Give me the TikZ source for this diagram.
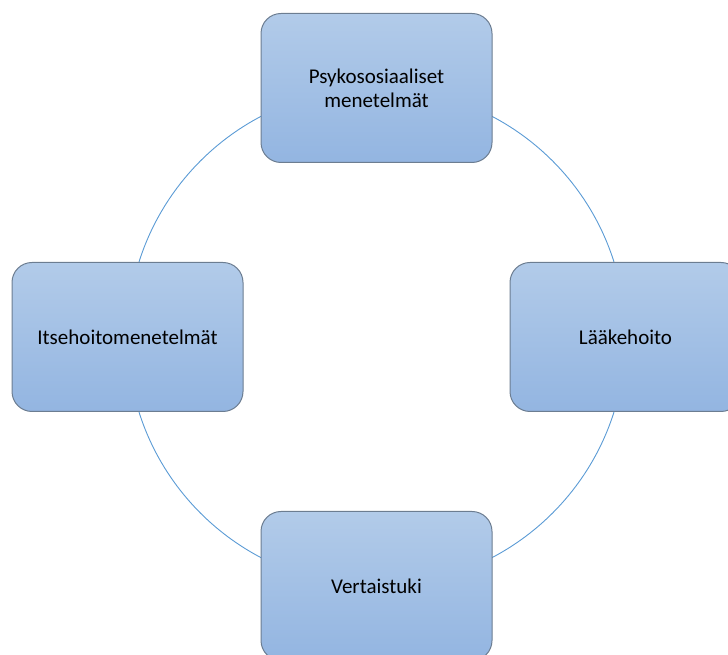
\documentclass[tikz,border=0pt]{standalone}
\usepackage{fontspec}
\setmainfont{Carlito}
\usepackage{xcolor}
\usepackage{tikz}
\definecolor{boxTop}{HTML}{B2CBE9}
\definecolor{boxBottom}{HTML}{93B5E1}
\definecolor{boxBorder}{HTML}{6C7D91}
\definecolor{ringLine}{HTML}{5B9BD5}
\newcommand{\hoitoNode}[4]{
	\node[hoitoBox] (#1) at (#2, #3) {#4};
}
\tikzset{
	hoitoBox/.style = {draw = boxBorder, line width = 1pt, rounded corners = 20pt, top color = boxTop, bottom color = boxBottom, minimum width = 231pt, minimum height = 149pt, align = center, font = \fontsize{21}{24}\selectfont, inner sep = 0pt}
}

\begin{document}
\begin{tikzpicture}[x = 1pt, y = 1pt]%

		\useasboundingbox (0, 0) rectangle (728, 655);

		% ring
		\coordinate (keskus) at (376.5, 318);
		\draw[ringLine, line width = 0.9pt] (keskus) circle (249);

		% top and bottom
		\hoitoNode{psyko}{376.5}{567}{Psykososiaaliset\\menetelmät}
		\hoitoNode{vertais}{376.5}{69}{Vertaistuki}

		% left and right
		\hoitoNode{itse}{127.5}{318}{Itsehoitomenetelmät}
		\hoitoNode{laake}{625.5}{318}{Lääkehoito}

	\end{tikzpicture}
\end{document}
